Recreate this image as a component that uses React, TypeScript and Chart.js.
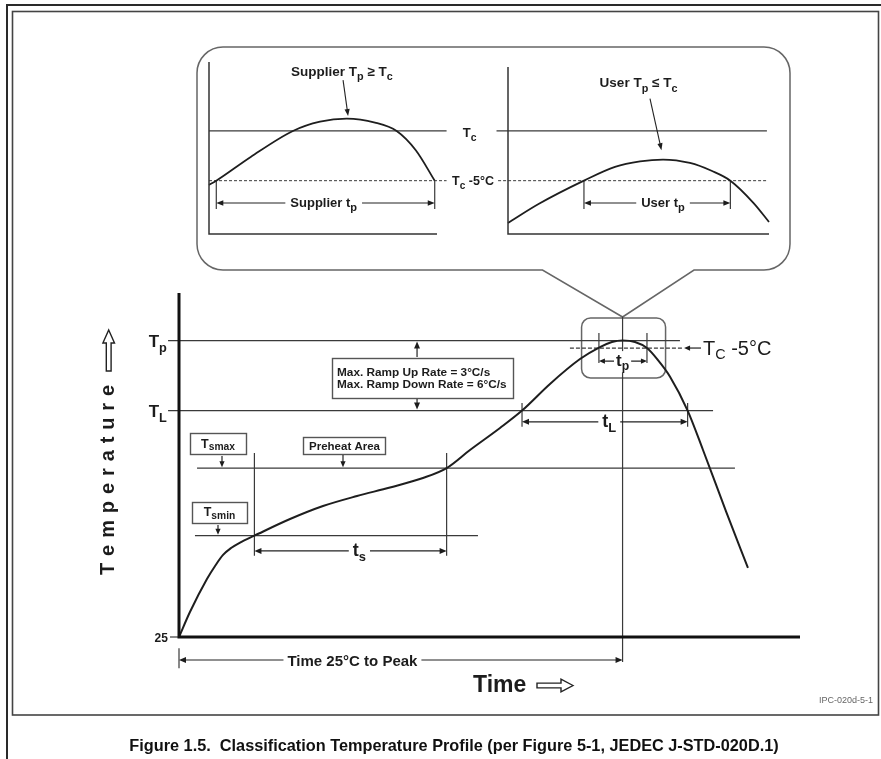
import React, { useEffect, useRef } from "react";
import { Chart, registerables } from "chart.js";

Chart.register(...registerables);

const W = 881;
const H = 759;
const FONT = '"Liberation Sans", Arial, Helvetica, sans-serif';
const INK = "#1c1c1c";
const GUIDE = "#3a3a3a";

// ---------- Main reflow profile (time in s, temperature in °C, schematic) ----------
const profileTime = [0, 7.4, 18.9, 24.4, 29.8, 35.2, 41.3, 51, 75.1, 97.4, 120.4, 142.7, 165, 181, 196.8, 217.1, 232, 250.9, 271.2, 284.7, 292.8, 300, 308.4, 316.5, 323.9, 332.1, 344, 354.4, 369.9, 384.8];
const profileTemp = [25, 45, 71.4, 81.8, 90.6, 96.1, 100.5, 106, 119.3, 129.7, 137.7, 144.5, 152.1, 160, 174.5, 192.1, 206, 227.3, 247.2, 256.8, 260.8, 262, 260.8, 256, 246.4, 233.1, 206, 174.5, 125.7, 80.2];

// temperature levels
const T_ROOM = 25;
const T_TOP = 300;
const T_P = 262;
const T_C5 = 256;
const T_L = 206;
const T_SMAX = 160;
const T_SMIN = 106;

// time marks
const T_AXIS_MAX = 420;
const tSmin = 51;
const tSmax = 181;
const tL1 = 232;
const tPeak = 300;
const tL2 = 344;
const tp1 = 284;
const tp2 = 316.5;

// horizontal guides: level / start time / end time
const guideLevel = [T_P, T_L, T_SMAX, T_SMIN, T_ROOM];
const guideStart = [-7.4, -7.4, 12.2, 10.8, -6.1];
const guideEnd = [338.8, 361.2, 376, 202.2, 0];

// vertical markers: time / top temp / bottom temp
const markerTime = [tPeak, tSmin, tSmax, tL1, tL2, tp1, tp2, 0];
const markerTop = [281, 172, 172, 212, 212, 268, 268, 16];
const markerBottom = [5, 90, 90, 193, 193, 244, 244, 0];

// Tc -5°C dashed guide
const tc5Start = 264.4;
const tc5End = 340.9;

// dimension arrow levels (°C) and label centres (s)
const tsLevel = 93.8;
const tLLevel = 197;
const tpLevel = 245.6;
const peakTimeLevel = 6.6;
const tsLabelAt = 122;
const tLLabelAt = 291;
const peakTimeLabelAt = 117.3;
const rampTime = 161;
const rampUpFrom = 248.8;
const rampDownFrom = 215.3;

// ---------- Insets (schematic units 0..100) ----------
const supplierX = [0, 3.2, 18.3, 36.8, 48.7, 60.4, 72.8, 82.3, 90.7, 99];
const supplierY = [28.5, 31, 44.8, 59.9, 65.3, 67.1, 64.8, 59.9, 48.7, 31];
const userX = [0, 11.7, 29.1, 41, 50.6, 59.4, 69.7, 78.2, 85.2, 94.1, 100];
const userY = [6.4, 17.4, 31, 39, 42.2, 43.3, 41.3, 36.6, 31, 18, 7];
const INSET_TC = 60;
const INSET_TC5 = 31;
const INSET_TP_LEVEL = 18;
const INSET_TICK_BOTTOM = 14.5;
const supplierTp = [3.2, 99];
const userTp = [29.1, 85.2];

type Ctx = CanvasRenderingContext2D;
type Part = { t: string; sub?: boolean };
const P = (t: string): Part => ({ t });
const S = (t: string): Part => ({ t, sub: true });

type RichOpts = {
  weight?: string;
  align?: "left" | "center" | "right";
  subScale?: number;
  subDrop?: number;
  bg?: number;
};

function rich(ctx: Ctx, parts: Part[], x: number, y: number, size: number, o: RichOpts = {}) {
  const weight = o.weight ?? "bold";
  const subScale = o.subScale ?? 0.72;
  const subDrop = o.subDrop ?? 0.3;
  const fm = `${weight} ${size}px ${FONT}`;
  const fs = `${weight} ${(size * subScale).toFixed(2)}px ${FONT}`;
  const widths = parts.map((p) => {
    ctx.font = p.sub ? fs : fm;
    return ctx.measureText(p.t).width;
  });
  const total = widths.reduce((a, b) => a + b, 0);
  const align = o.align ?? "center";
  let cx = align === "center" ? x - total / 2 : align === "right" ? x - total : x;
  if (o.bg !== undefined) {
    const f = ctx.fillStyle;
    ctx.fillStyle = "#fff";
    ctx.fillRect(cx - o.bg, y - size * 0.85, total + 2 * o.bg, size * 1.25);
    ctx.fillStyle = f;
  }
  ctx.textAlign = "left";
  ctx.textBaseline = "alphabetic";
  parts.forEach((p, i) => {
    ctx.font = p.sub ? fs : fm;
    ctx.fillText(p.t, cx, p.sub ? y + size * subDrop : y);
    cx += widths[i];
  });
}

function head(ctx: Ctx, x: number, y: number, dx: number, dy: number, len = 7, half = 3) {
  const bx = x - dx * len;
  const by = y - dy * len;
  const px = -dy;
  const py = dx;
  ctx.beginPath();
  ctx.moveTo(x, y);
  ctx.lineTo(bx + px * half, by + py * half);
  ctx.lineTo(bx - px * half, by - py * half);
  ctx.closePath();
  ctx.fill();
}

function arrow(ctx: Ctx, x1: number, y1: number, x2: number, y2: number, len = 7, half = 3) {
  const d = Math.hypot(x2 - x1, y2 - y1);
  const dx = (x2 - x1) / d;
  const dy = (y2 - y1) / d;
  ctx.beginPath();
  ctx.moveTo(x1, y1);
  ctx.lineTo(x2 - dx * len * 0.6, y2 - dy * len * 0.6);
  ctx.stroke();
  head(ctx, x2, y2, dx, dy, len, half);
}

function dim(ctx: Ctx, x1: number, x2: number, y: number, len = 7, half = 3) {
  ctx.beginPath();
  ctx.moveTo(x1 + len * 0.6, y);
  ctx.lineTo(x2 - len * 0.6, y);
  ctx.stroke();
  head(ctx, x1, y, -1, 0, len, half);
  head(ctx, x2, y, 1, 0, len, half);
}

function roundRectPath(ctx: Ctx, x: number, y: number, w: number, h: number, r: number) {
  ctx.beginPath();
  ctx.moveTo(x + r, y);
  ctx.arcTo(x + w, y, x + w, y + h, r);
  ctx.arcTo(x + w, y + h, x, y + h, r);
  ctx.arcTo(x, y + h, x, y, r);
  ctx.arcTo(x, y, x + w, y, r);
  ctx.closePath();
}

function labelBox(ctx: Ctx, x: number, y: number, w: number, h: number) {
  ctx.save();
  ctx.fillStyle = "#fff";
  ctx.fillRect(x, y, w, h);
  ctx.strokeStyle = "#555";
  ctx.lineWidth = 1.4;
  ctx.strokeRect(x + 0.5, y + 0.5, w, h);
  ctx.restore();
}

function segDataset(x1: number, y1: number, x2: number, y2: number, width = 1.2, dash: number[] = []) {
  return {
    data: [
      { x: x1, y: y1 },
      { x: x2, y: y2 },
    ],
    borderColor: GUIDE,
    borderWidth: width,
    borderDash: dash,
    pointRadius: 0,
    tension: 0,
    clip: false as any,
    fill: false,
  };
}

// ---------------- main chart ----------------
const mainDecor = {
  id: "mainDecor",
  beforeDraw(chart: any) {
    const ctx: Ctx = chart.ctx;
    const X = (v: number) => chart.scales.x.getPixelForValue(v);
    ctx.save();
    ctx.fillStyle = "#fff";
    ctx.fillRect(0, 0, W, H);
    // outer page frame
    ctx.strokeStyle = "#2a2a2a";
    ctx.lineWidth = 2;
    ctx.beginPath();
    ctx.moveTo(W, 5);
    ctx.lineTo(7, 5);
    ctx.lineTo(7, H);
    ctx.stroke();
    // inner figure frame
    ctx.strokeStyle = "#444";
    ctx.lineWidth = 1.6;
    ctx.strokeRect(12.5, 11.5, 866, 703.5);
    // call-out bubble
    const L = 197, R = 790, T = 47, B = 270, r = 26;
    const tipX = X(tPeak);
    ctx.strokeStyle = "#666";
    ctx.lineWidth = 1.5;
    ctx.beginPath();
    ctx.moveTo(694, B);
    ctx.arcTo(R, B, R, T, r);
    ctx.arcTo(R, T, L, T, r);
    ctx.arcTo(L, T, L, B, r);
    ctx.arcTo(L, B, R, B, r);
    ctx.lineTo(542.5, B);
    ctx.lineTo(tipX, 317);
    ctx.closePath();
    ctx.stroke();
    // small rounded box around the peak
    roundRectPath(ctx, tipX - 41, 318, 84, 60, 9);
    ctx.stroke();
    ctx.restore();
  },
  afterDatasetsDraw(chart: any) {
    const ctx: Ctx = chart.ctx;
    const a = chart.chartArea;
    const X = (v: number) => chart.scales.x.getPixelForValue(v);
    const Y = (v: number) => chart.scales.y.getPixelForValue(v);
    ctx.save();
    // axes
    ctx.strokeStyle = "#111";
    ctx.lineWidth = 3;
    ctx.beginPath();
    ctx.moveTo(a.left, a.top);
    ctx.lineTo(a.left, a.bottom);
    ctx.lineTo(a.right, a.bottom);
    ctx.stroke();

    ctx.fillStyle = INK;
    ctx.strokeStyle = "#222";
    ctx.lineWidth = 1.2;

    // axis level labels
    rich(ctx, [P("T"), S("p")], X(-8.2), Y(T_P) + 6.5, 17, { align: "right", subScale: 0.75 });
    rich(ctx, [P("T"), S("L")], X(-8.2), Y(T_L) + 6.5, 17, { align: "right", subScale: 0.75 });
    rich(ctx, [P("25")], X(-7.5), Y(T_ROOM) + 5, 12, { align: "right" });

    // Tsmax box
    labelBox(ctx, 190, 433, 56, 21);
    rich(ctx, [P("T"), S("smax")], 218, 447.5, 12.5, { subScale: 0.82, subDrop: 0.2 });
    arrow(ctx, 222, 456, 222, Y(T_SMAX) - 1, 6, 2.6);
    // Preheat Area box
    labelBox(ctx, 303, 437, 82, 17);
    rich(ctx, [P("Preheat Area")], 344.5, 449.5, 11.5);
    arrow(ctx, 343, 455, 343, Y(T_SMAX) - 1, 6, 2.6);
    // Tsmin box
    labelBox(ctx, 192, 502, 55, 21);
    rich(ctx, [P("T"), S("smin")], 219.5, 516, 12.5, { subScale: 0.82, subDrop: 0.2 });
    arrow(ctx, 218, 525, 218, Y(T_SMIN) - 1, 6, 2.6);
    // Ramp box
    labelBox(ctx, 332, 358, 181, 40);
    rich(ctx, [P("Max. Ramp Up Rate = 3°C/s")], 337, 375.5, 11.8, { align: "left" });
    rich(ctx, [P("Max. Ramp Down Rate = 6°C/s")], 337, 387.5, 11.8, { align: "left" });
    arrow(ctx, X(rampTime), Y(rampUpFrom), X(rampTime), Y(T_P) + 1, 7, 3);
    arrow(ctx, X(rampTime), Y(rampDownFrom), X(rampTime), Y(T_L) - 1, 7, 3);

    // ts
    dim(ctx, X(tSmin), X(tSmax), Y(tsLevel));
    rich(ctx, [P("t"), S("s")], X(tsLabelAt), Y(tsLevel) + 5.5, 18, { bg: 4, subDrop: 0.25 });
    // tL
    dim(ctx, X(tL1), X(tL2), Y(tLLevel));
    rich(ctx, [P("t"), S("L")], X(tLLabelAt), Y(tLLevel) + 5.5, 18, { bg: 4, subDrop: 0.28 });
    // tp
    dim(ctx, X(tp1), X(tp2), Y(tpLevel), 6, 2.6);
    rich(ctx, [P("t"), S("p")], X(tPeak), Y(tpLevel) + 4.5, 17, { bg: 2, subDrop: 0.28 });
    // time 25°C to peak
    dim(ctx, X(0), X(tPeak), Y(peakTimeLevel));
    rich(ctx, [P("Time 25°C to Peak")], X(peakTimeLabelAt), Y(peakTimeLevel) + 5.5, 15, { bg: 4 });

    // Tc -5°C pointer
    const ex = X(tc5End);
    arrow(ctx, ex + 18, Y(T_C5), ex + 1, Y(T_C5), 6, 2.6);
    rich(ctx, [P("T"), S("C"), P(" -5°C")], ex + 20, Y(T_C5) + 7, 20, {
      weight: "normal",
      align: "left",
      subScale: 0.72,
      subDrop: 0.22,
    });

    // Temperature axis title (rotated, letter-spaced)
    ctx.save();
    ctx.translate(114, 575);
    ctx.rotate(-Math.PI / 2);
    ctx.font = `bold 20px ${FONT}`;
    ctx.textAlign = "left";
    ctx.textBaseline = "alphabetic";
    let px = 0;
    for (const ch of "Temperature") {
      ctx.fillText(ch, px, 0);
      px += ctx.measureText(ch).width + 6.9;
    }
    ctx.restore();
    // hollow up arrow
    ctx.save();
    ctx.fillStyle = "#fff";
    ctx.strokeStyle = "#222";
    ctx.lineWidth = 1.4;
    ctx.beginPath();
    const ax = 108.7;
    ctx.moveTo(ax, 330);
    ctx.lineTo(ax + 5.8, 343);
    ctx.lineTo(ax + 2.4, 343);
    ctx.lineTo(ax + 2.4, 371);
    ctx.lineTo(ax - 2.4, 371);
    ctx.lineTo(ax - 2.4, 343);
    ctx.lineTo(ax - 5.8, 343);
    ctx.closePath();
    ctx.fill();
    ctx.stroke();
    ctx.restore();

    // Time axis title + hollow right arrow
    rich(ctx, [P("Time")], 473, 692, 23, { align: "left" });
    ctx.save();
    ctx.fillStyle = "#fff";
    ctx.strokeStyle = "#222";
    ctx.lineWidth = 1.4;
    ctx.beginPath();
    const ay = 685.5;
    ctx.moveTo(573, ay);
    ctx.lineTo(561, ay - 6.3);
    ctx.lineTo(561, ay - 2.4);
    ctx.lineTo(537, ay - 2.4);
    ctx.lineTo(537, ay + 2.4);
    ctx.lineTo(561, ay + 2.4);
    ctx.lineTo(561, ay + 6.3);
    ctx.closePath();
    ctx.fill();
    ctx.stroke();
    ctx.restore();

    // source id + caption
    ctx.fillStyle = "#666";
    rich(ctx, [P("IPC-020d-5-1")], 873, 703, 9, { weight: "normal", align: "right" });
    ctx.fillStyle = "#111";
    rich(
      ctx,
      [P("Figure 1.5.  Classification Temperature Profile (per Figure 5-1, JEDEC J-STD-020D.1)")],
      454,
      750.5,
      16.3
    );
    ctx.restore();
  },
};

function mainConfig(): any {
  const datasets: any[] = [];
  datasets.push({
    data: profileTime.map((t, i) => ({ x: t, y: profileTemp[i] })),
    borderColor: "#1e1e1e",
    borderWidth: 2,
    pointRadius: 0,
    cubicInterpolationMode: "monotone",
    clip: false,
    fill: false,
  });
  guideLevel.forEach((lvl, i) => datasets.push(segDataset(guideStart[i], lvl, guideEnd[i], lvl, 1.2)));
  markerTime.forEach((t, i) => datasets.push(segDataset(t, markerTop[i], t, markerBottom[i], 1.2)));
  datasets.push(segDataset(tc5Start, T_C5, tc5End, T_C5, 1.2, [4, 2]));
  return {
    type: "line",
    data: { datasets },
    options: {
      responsive: false,
      animation: false,
      events: [],
      layout: { padding: { left: 179, right: W - 800, top: 293, bottom: H - 637 } },
      scales: {
        x: { type: "linear", min: 0, max: T_AXIS_MAX, display: false },
        y: { type: "linear", min: T_ROOM, max: T_TOP, display: false },
      },
      plugins: { legend: { display: false }, tooltip: { enabled: false } },
    },
    plugins: [mainDecor],
  };
}

// ---------------- insets ----------------
type InsetCfg = {
  padding: { left: number; right: number; top: number; bottom: number };
  yMax: number;
  curveX: number[];
  curveY: number[];
  tcRange: [number, number];
  dashRange: [number, number];
  ticks: number[];
  annotate: (ctx: Ctx, X: (v: number) => number, Y: (v: number) => number) => void;
};

function insetConfig(c: InsetCfg): any {
  const datasets: any[] = [];
  datasets.push({
    data: c.curveX.map((x, i) => ({ x, y: c.curveY[i] })),
    borderColor: "#1e1e1e",
    borderWidth: 1.8,
    pointRadius: 0,
    cubicInterpolationMode: "monotone",
    clip: false,
    fill: false,
  });
  datasets.push(segDataset(c.tcRange[0], INSET_TC, c.tcRange[1], INSET_TC, 1.2));
  datasets.push(segDataset(c.dashRange[0], INSET_TC5, c.dashRange[1], INSET_TC5, 1, [3, 2]));
  c.ticks.forEach((t) => datasets.push(segDataset(t, INSET_TC5, t, INSET_TICK_BOTTOM, 1.2)));
  const plugin = {
    id: "insetDecor",
    afterDatasetsDraw(chart: any) {
      const ctx: Ctx = chart.ctx;
      const a = chart.chartArea;
      const X = (v: number) => chart.scales.x.getPixelForValue(v);
      const Y = (v: number) => chart.scales.y.getPixelForValue(v);
      ctx.save();
      ctx.strokeStyle = "#333";
      ctx.lineWidth = 1.5;
      ctx.beginPath();
      ctx.moveTo(a.left, a.top);
      ctx.lineTo(a.left, a.bottom);
      ctx.lineTo(a.right, a.bottom);
      ctx.stroke();
      ctx.fillStyle = INK;
      ctx.strokeStyle = "#222";
      ctx.lineWidth = 1.1;
      c.annotate(ctx, X, Y);
      ctx.restore();
    },
  };
  return {
    type: "line",
    data: { datasets },
    options: {
      responsive: false,
      animation: false,
      events: [],
      layout: { padding: c.padding },
      scales: {
        x: { type: "linear", min: 0, max: 100, display: false },
        y: { type: "linear", min: 0, max: c.yMax, display: false },
      },
      plugins: { legend: { display: false }, tooltip: { enabled: false } },
    },
    plugins: [plugin],
  };
}

const supplierCfg: InsetCfg = {
  padding: { left: 209, right: W - 437, top: 62, bottom: H - 234 },
  yMax: 100,
  curveX: supplierX,
  curveY: supplierY,
  tcRange: [0, 104.2],
  dashRange: [0, 104.2],
  ticks: supplierTp,
  annotate: (ctx, X, Y) => {
    rich(ctx, [P("Supplier T"), S("p"), P(" ≥ T"), S("c")], X(58.3), Y(91.9), 13.5, { subScale: 0.8, subDrop: 0.32 });
    arrow(ctx, X(58.8), Y(89.5), X(61), Y(68.6), 7, 2.6);
    dim(ctx, X(supplierTp[0]), X(supplierTp[1]), Y(INSET_TP_LEVEL), 7, 2.8);
    rich(ctx, [P("Supplier t"), S("p")], X(50.3), Y(INSET_TP_LEVEL) + 4, 13, { bg: 5, subScale: 0.85, subDrop: 0.3 });
    // labels between the panels
    rich(ctx, [P("T"), S("c")], X(114.3), Y(INSET_TC) + 6, 13, { subScale: 0.8, subDrop: 0.32 });
    rich(ctx, [P("T"), S("c"), P(" -5°C")], X(115.8), Y(INSET_TC5) + 4.5, 12.5, { subScale: 0.8, subDrop: 0.32 });
  },
};

const userCfg: InsetCfg = {
  padding: { left: 508, right: W - 769, top: 67, bottom: H - 234 },
  yMax: 97.1,
  curveX: userX,
  curveY: userY,
  tcRange: [-4.4, 99.2],
  dashRange: [-3.8, 98.9],
  ticks: userTp,
  annotate: (ctx, X, Y) => {
    rich(ctx, [P("User T"), S("p"), P(" ≤ T"), S("c")], X(50), Y(85.2), 13.5, { subScale: 0.8, subDrop: 0.32 });
    arrow(ctx, X(54.4), Y(78.7), X(58.8), Y(48.7), 7, 2.6);
    dim(ctx, X(userTp[0]), X(userTp[1]), Y(INSET_TP_LEVEL), 7, 2.8);
    rich(ctx, [P("User t"), S("p")], X(59.4), Y(INSET_TP_LEVEL) + 4, 13, { bg: 5, subScale: 0.85, subDrop: 0.3 });
  },
};

export default function App() {
  const mainRef = useRef<HTMLCanvasElement>(null);
  const leftRef = useRef<HTMLCanvasElement>(null);
  const rightRef = useRef<HTMLCanvasElement>(null);

  useEffect(() => {
    const charts: Chart[] = [];
    if (mainRef.current) charts.push(new Chart(mainRef.current, mainConfig()));
    if (leftRef.current) charts.push(new Chart(leftRef.current, insetConfig(supplierCfg)));
    if (rightRef.current) charts.push(new Chart(rightRef.current, insetConfig(userCfg)));
    return () => charts.forEach((c) => c.destroy());
  }, []);

  const layer: React.CSSProperties = { position: "absolute", left: 0, top: 0, width: W, height: H };
  return (
    <div style={{ position: "absolute", left: 0, top: 0, width: W, height: H, background: "#fff" }}>
      <canvas ref={mainRef} width={W} height={H} style={layer} />
      <canvas ref={leftRef} width={W} height={H} style={layer} />
      <canvas ref={rightRef} width={W} height={H} style={layer} />
    </div>
  );
}
